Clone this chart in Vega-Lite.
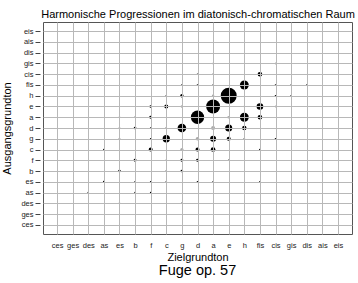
{
  "$schema": "https://vega.github.io/schema/vega-lite/v6.json",
  "width": 309,
  "height": 212,
  "autosize": {"type": "none"},
  "padding": {"left": 43, "top": 22, "right": 6, "bottom": 49},
  "background": "white",
  "config": {
    "view": {"stroke": "#555555", "strokeWidth": 1},
    "font": "Liberation Sans"
  },
  "title": {
    "text": "Fuge op. 57",
    "orient": "bottom",
    "anchor": "middle",
    "fontSize": 14.5,
    "fontWeight": "normal",
    "font": "Liberation Sans",
    "color": "#000000",
    "offset": 1
  },
  "data": {
    "values": [
      {"a": "gis", "z": "a", "n": 1.2, "k": "s"},
      {"a": "gis", "z": "cis", "n": 1.2, "k": "s"},
      {"a": "cis", "z": "d", "n": 1.2, "k": "s"},
      {"a": "cis", "z": "a", "n": 1.2, "k": "s"},
      {"a": "cis", "z": "fis", "n": 3.5, "k": "s"},
      {"a": "fis", "z": "g", "n": 1.2, "k": "s"},
      {"a": "fis", "z": "d", "n": 1.2, "k": "s"},
      {"a": "fis", "z": "a", "n": 1.2, "k": "s"},
      {"a": "fis", "z": "h", "n": 6.7, "k": "s"},
      {"a": "fis", "z": "cis", "n": 1.2, "k": "s"},
      {"a": "fis", "z": "gis", "n": 1.2, "k": "s"},
      {"a": "fis", "z": "dis", "n": 1, "k": "s"},
      {"a": "h", "z": "c", "n": 1.2, "k": "s"},
      {"a": "h", "z": "g", "n": 2.5, "k": "s"},
      {"a": "h", "z": "a", "n": 1.8, "k": "g"},
      {"a": "h", "z": "e", "n": 12, "k": "s"},
      {"a": "h", "z": "cis", "n": 1.2, "k": "s"},
      {"a": "h", "z": "gis", "n": 1.2, "k": "s"},
      {"a": "e", "z": "f", "n": 1.8, "k": "s"},
      {"a": "e", "z": "c", "n": 3, "k": "s"},
      {"a": "e", "z": "g", "n": 1.8, "k": "g"},
      {"a": "e", "z": "a", "n": 10.5, "k": "s"},
      {"a": "e", "z": "h", "n": 1.2, "k": "s"},
      {"a": "e", "z": "fis", "n": 5, "k": "s"},
      {"a": "e", "z": "cis", "n": 1.2, "k": "s"},
      {"a": "a", "z": "es", "n": 1.2, "k": "s"},
      {"a": "a", "z": "b", "n": 1.2, "k": "s"},
      {"a": "a", "z": "f", "n": 2.2, "k": "s"},
      {"a": "a", "z": "d", "n": 10, "k": "s"},
      {"a": "a", "z": "e", "n": 2, "k": "g"},
      {"a": "a", "z": "h", "n": 6.7, "k": "s"},
      {"a": "a", "z": "fis", "n": 3.5, "k": "s"},
      {"a": "d", "z": "es", "n": 1.2, "k": "s"},
      {"a": "d", "z": "b", "n": 2, "k": "s"},
      {"a": "d", "z": "f", "n": 1.2, "k": "s"},
      {"a": "d", "z": "c", "n": 1.2, "k": "s"},
      {"a": "d", "z": "g", "n": 6.5, "k": "s"},
      {"a": "d", "z": "a", "n": 3, "k": "g"},
      {"a": "d", "z": "e", "n": 5.3, "k": "s"},
      {"a": "d", "z": "h", "n": 3.3, "k": "s"},
      {"a": "g", "z": "es", "n": 1.2, "k": "s"},
      {"a": "g", "z": "f", "n": 1.2, "k": "s"},
      {"a": "g", "z": "c", "n": 5.5, "k": "s"},
      {"a": "g", "z": "d", "n": 2.7, "k": "g"},
      {"a": "g", "z": "a", "n": 4.5, "k": "s"},
      {"a": "g", "z": "e", "n": 3, "k": "s"},
      {"a": "g", "z": "h", "n": 1.2, "k": "s"},
      {"a": "g", "z": "cis", "n": 1.2, "k": "s"},
      {"a": "c", "z": "as", "n": 1.2, "k": "s"},
      {"a": "c", "z": "f", "n": 3, "k": "s"},
      {"a": "c", "z": "g", "n": 2.4, "k": "g"},
      {"a": "c", "z": "d", "n": 3, "k": "s"},
      {"a": "c", "z": "a", "n": 3.5, "k": "s"},
      {"a": "c", "z": "fis", "n": 1.3, "k": "s"},
      {"a": "f", "z": "b", "n": 2.2, "k": "s"},
      {"a": "f", "z": "c", "n": 1.2, "k": "s"},
      {"a": "f", "z": "g", "n": 2.2, "k": "s"},
      {"a": "f", "z": "d", "n": 2.2, "k": "s"},
      {"a": "f", "z": "e", "n": 1.2, "k": "s"},
      {"a": "b", "z": "es", "n": 2, "k": "s"},
      {"a": "b", "z": "c", "n": 1.2, "k": "s"},
      {"a": "b", "z": "g", "n": 2, "k": "s"},
      {"a": "es", "z": "as", "n": 1.4, "k": "s"},
      {"a": "es", "z": "b", "n": 1.2, "k": "s"},
      {"a": "es", "z": "f", "n": 1.2, "k": "s"},
      {"a": "es", "z": "c", "n": 1.2, "k": "s"},
      {"a": "es", "z": "d", "n": 1.2, "k": "s"},
      {"a": "es", "z": "a", "n": 1.2, "k": "s"},
      {"a": "es", "z": "fis", "n": 1.2, "k": "s"},
      {"a": "as", "z": "des", "n": 1.2, "k": "s"},
      {"a": "as", "z": "b", "n": 1.2, "k": "s"},
      {"a": "as", "z": "f", "n": 1.2, "k": "s"},
      {"a": "des", "z": "es", "n": 1.2, "k": "s"},
      {"a": "des", "z": "g", "n": 1.2, "k": "s"}
    ]
  },
  "layer": [
    {
      "mark": {"type": "point", "filled": true, "shape": "circle", "opacity": 1, "strokeWidth": 0},
      "encoding": {
        "x": {
          "field": "z", "type": "nominal",
          "scale": {"type": "point", "padding": 0.9, "domain": ["ces","ges","des","as","es","b","f","c","g","d","a","e","h","fis","cis","gis","dis","ais","eis"]},
          "axis": {
            "orient": "bottom", "title": "Zielgrundton", "titleFontSize": 11, "titleFontWeight": "normal", "titleColor": "#000000", "titlePadding": 3,
            "labelFontSize": 7.5, "labelColor": "#222222", "labelPadding": 7, "labelAngle": 0,
            "ticks": false, "tickSize": 0, "domain": false,
            "grid": true, "gridColor": "#b8b8b8", "gridWidth": 1, "zindex": 1
          }
        },
        "y": {
          "field": "a", "type": "nominal",
          "scale": {"type": "point", "padding": 0.86, "domain": ["eis","ais","dis","gis","cis","fis","h","e","a","d","g","c","f","b","es","as","des","ges","ces"]},
          "axis": {
            "title": "Ausgangsgrundton", "titleFontSize": 11, "titleFontWeight": "normal", "titleColor": "#000000", "titlePadding": 8,
            "labelFontSize": 7.5, "labelColor": "#222222", "labelPadding": 2,
            "ticks": true, "tickSize": 5, "tickColor": "#444444", "offset": 3, "domain": false,
            "grid": true, "gridColor": "#b8b8b8", "gridWidth": 1, "zindex": 1
          }
        },
        "size": {"field": "n", "type": "quantitative", "scale": {"type": "pow", "exponent": 2, "domain": [0, 12], "range": [0, 254]}, "legend": null},
        "color": {"field": "k", "type": "nominal", "scale": {"domain": ["s", "g"], "range": ["#000000", "#a8a8a8"]}, "legend": null}
      }
    },
    {
      "mark": {"type": "point", "opacity": 0},
      "encoding": {
        "x": {
          "field": "z", "type": "nominal",
          "axis": {
            "orient": "top", "title": "Harmonische Progressionen im diatonisch-chromatischen Raum",
            "titleFontSize": 11, "titleFontWeight": "normal", "titleColor": "#000000", "titlePadding": 3,
            "labels": false, "ticks": false, "domain": false, "grid": false
          }
        }
      }
    }
  ],
  "resolve": {"axis": {"x": "independent"}}
}
